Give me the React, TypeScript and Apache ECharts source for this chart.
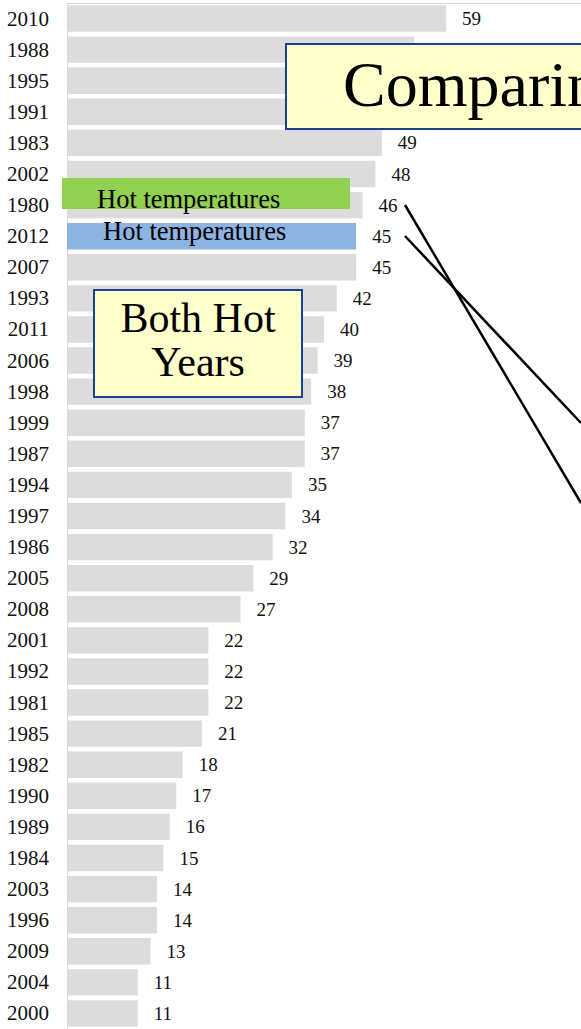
import React, { useEffect, useRef } from "react";
import * as echarts from "echarts";

const categories = [
  "2010", "1988", "1995", "1991", "1983", "2002", "1980", "2012", "2007", "1993",
  "2011", "2006", "1998", "1999", "1987", "1994", "1997", "1986", "2005", "2008",
  "2001", "1992", "1981", "1985", "1982", "1990", "1989", "1984", "2003", "1996",
  "2009", "2004", "2000",
];
const values = [
  59, 54, 52, 50, 49, 48, 46, 45, 45, 42,
  40, 39, 38, 37, 37, 35, 34, 32, 29, 27,
  22, 22, 22, 21, 18, 17, 16, 15, 14, 14,
  13, 11, 11,
];
const highlightYear = "2012";
const coveredYears = ["1995", "1991"];
const titleText = "Comparing";
const boxText = ["Both Hot", "Years"];
const tagText = "Hot temperatures";

const SERIF = '"Liberation Serif", "Times New Roman", serif';

export default function App() {
  const ref = useRef<HTMLDivElement>(null);
  useEffect(() => {
    if (!ref.current) return;
    const chart = echarts.init(ref.current, null, { renderer: "svg" });
    const data = values.map((v, i) => {
      const item: any = { value: v };
      if (categories[i] === highlightYear) item.itemStyle = { color: "#8db3e2" };
      if (coveredYears.includes(categories[i])) item.label = { show: false };
      return item;
    });
    chart.setOption({
      animation: false,
      backgroundColor: "#ffffff",
      grid: { left: 67, top: 3, width: 520, height: 1030 },
      xAxis: {
        type: "value",
        min: 0,
        max: 80,
        position: "top",
        axisLine: { show: true, lineStyle: { color: "#d9d9d9", width: 1 } },
        axisTick: { show: false },
        axisLabel: { show: false },
        splitLine: { show: false },
      },
      yAxis: {
        type: "category",
        data: categories,
        inverse: true,
        axisLine: { show: true, lineStyle: { color: "#d9d9d9", width: 1 } },
        axisTick: { show: false },
        axisLabel: {
          fontFamily: SERIF,
          fontSize: 21,
          color: "#111",
          margin: 18,
        },
      },
      series: [
        {
          type: "bar",
          data,
          barCategoryGap: "15%",
          itemStyle: { color: "#dcdcdc" },
          label: {
            show: true,
            position: "right",
            distance: 16,
            fontFamily: SERIF,
            fontSize: 19,
            color: "#111",
          },
        },
      ],
      graphic: [
        {
          type: "rect",
          z: 100,
          shape: { x: 62, y: 178, width: 288, height: 31 },
          style: { fill: "#92d050" },
        },
        {
          type: "text",
          z: 101,
          x: 97,
          y: 198.5,
          style: {
            text: tagText,
            fontFamily: SERIF,
            fontSize: 26.5,
            fill: "#000",
            verticalAlign: "middle",
            align: "left",
          },
        },
        {
          type: "text",
          z: 101,
          x: 103,
          y: 231,
          style: {
            text: tagText,
            fontFamily: SERIF,
            fontSize: 26.5,
            fill: "#000",
            verticalAlign: "middle",
            align: "left",
          },
        },
        {
          type: "rect",
          z: 100,
          shape: { x: 94, y: 290, width: 208, height: 107 },
          style: { fill: "#ffffcc", stroke: "#1c3f94", lineWidth: 2 },
        },
        {
          type: "text",
          z: 101,
          x: 198,
          y: 318,
          style: {
            text: boxText[0],
            fontFamily: SERIF,
            fontSize: 42,
            fill: "#000",
            verticalAlign: "middle",
            align: "center",
          },
        },
        {
          type: "text",
          z: 101,
          x: 198,
          y: 362,
          style: {
            text: boxText[1],
            fontFamily: SERIF,
            fontSize: 42,
            fill: "#000",
            verticalAlign: "middle",
            align: "center",
          },
        },
        {
          type: "rect",
          z: 100,
          shape: { x: 286, y: 44, width: 400, height: 85 },
          style: { fill: "#ffffcc", stroke: "#1c3f94", lineWidth: 2 },
        },
        {
          type: "text",
          z: 101,
          x: 343,
          y: 84,
          style: {
            text: titleText,
            fontFamily: SERIF,
            fontSize: 64,
            fill: "#000",
            verticalAlign: "middle",
            align: "left",
          },
        },
        {
          type: "line",
          z: 102,
          shape: { x1: 405, y1: 205, x2: 581, y2: 503 },
          style: { stroke: "#000", lineWidth: 2.5 },
        },
        {
          type: "line",
          z: 102,
          shape: { x1: 405, y1: 236, x2: 581, y2: 423 },
          style: { stroke: "#000", lineWidth: 2.5 },
        },
      ],
    });
    return () => chart.dispose();
  }, []);
  return (
    <div
      ref={ref}
      style={{ position: "absolute", left: 0, top: 0, width: 581, height: 1029 }}
    />
  );
}
